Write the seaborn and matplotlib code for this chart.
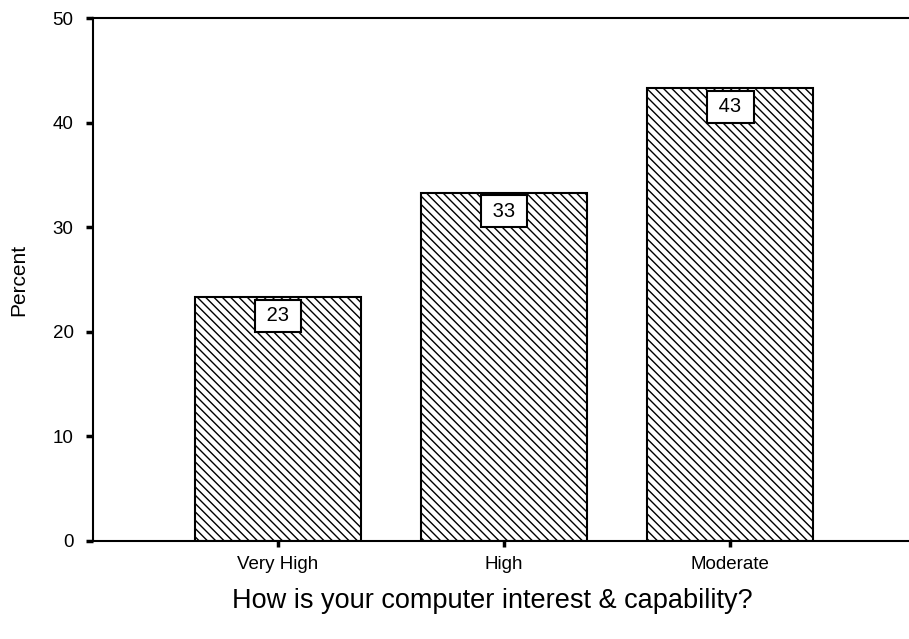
import pandas as pd
import numpy as np
import matplotlib
matplotlib.use('Agg')
import matplotlib.pyplot as plt
import seaborn as sns

# Datos
categorias = ['Very High', 'High', 'Moderate']
porcentajes = [23.3, 33.3, 43.3]
etiquetas = ['23', '33', '43']

df = pd.DataFrame({'nivel': categorias, 'pct': porcentajes})

sns.set_theme(style='white')
plt.rcParams['font.family'] = ['Liberation Sans', 'DejaVu Sans']
plt.rcParams['text.color'] = 'black'
plt.rcParams['axes.labelcolor'] = 'black'
plt.rcParams['xtick.color'] = 'black'
plt.rcParams['ytick.color'] = 'black'
plt.rcParams['hatch.linewidth'] = 1.0
plt.rcParams['hatch.color'] = 'black'

fig = plt.figure(figsize=(9.09, 6.39), dpi=100)
ax = fig.add_axes([0.1023, 0.1534, 0.8977, 0.8184])

sns.barplot(data=df, x='nivel', y='pct', color='white', edgecolor='black',
            linewidth=1.5, hatch='\\\\\\\\', width=0.735, saturation=1, ax=ax)

# Cajas con el valor dentro de cada barra
for i, (v, lab) in enumerate(zip(porcentajes, etiquetas)):
    ax.annotate(f' {lab} ', xy=(i, v), xytext=(0, -13.3), textcoords='offset points',
                ha='center', va='center', fontsize=14.5, color='black',
                bbox=dict(boxstyle='square,pad=0.32', fc='white', ec='black', lw=1.5))

ax.set_xlim(-0.817, 2.79)
ax.set_ylim(0, 50)
ax.set_yticks([0, 10, 20, 30, 40, 50])

ax.spines['right'].set_visible(False)
for s in ['left', 'top', 'bottom']:
    ax.spines[s].set_color('black')
    ax.spines[s].set_linewidth(1.5)

ax.tick_params(axis='y', direction='out', length=5, width=2.5, color='black',
               labelcolor='black', labelsize=13.5, pad=9, left=True)
ax.tick_params(axis='x', direction='out', length=4, width=2.5, color='black',
               labelcolor='black', labelsize=13.5, pad=7, bottom=True)

ax.set_ylabel('Percent', fontsize=15, color='black')
ax.yaxis.set_label_coords(-0.079, 0.5)
ax.set_xlabel('How is your computer interest & capability?', fontsize=19.5, color='black')
ax.xaxis.set_label_coords(0.489, -0.09)

fig.savefig('out.png', dpi=100)
